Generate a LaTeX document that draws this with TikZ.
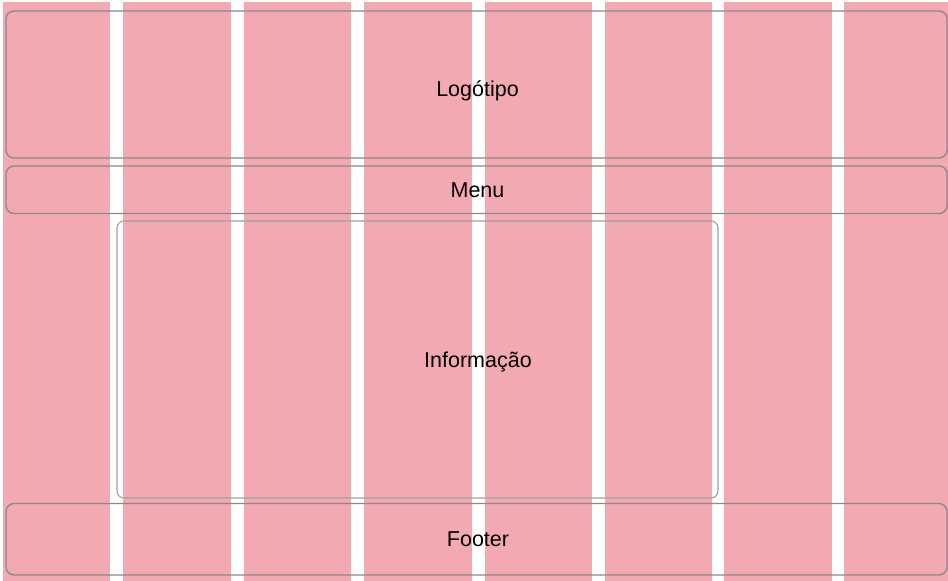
\documentclass[tikz,border=0pt]{standalone}
\usepackage{fontspec}
\setmainfont{Liberation Sans}
\definecolor{colpink}{HTML}{F3A9B2}
\definecolor{boxline}{HTML}{8A8A8A}
\definecolor{infoline}{HTML}{A0A0A0}
\begin{document}
\begin{tikzpicture}[x=1pt,y=-1pt,
  colbar/.style={fill=colpink,draw=none},
  region/.style={draw=boxline,line width=1.4pt,rounded corners=8pt,fill=none},
  inforegion/.style={draw=infoline,line width=1.1pt,rounded corners=7pt,fill=none},
  lbl/.style={anchor=base,inner sep=0pt,font=\fontsize{21.5}{24}\selectfont}]
\useasboundingbox (0,0) rectangle (948,581);
\fill[white] (0,0) rectangle (948,581);
% columns
\foreach \a/\b in {3/110,123/231,244/351,364/472,485/592,605/712,724/832,844/948}
  \fill[colpink] (\a,2) rectangle (\b,581);
% regions
\draw[region] (6,11) rectangle (947,158);
\draw[region] (6,166) rectangle (947,213.5);
\draw[inforegion] (117,221) rectangle (718,498);
\draw[region] (6,503.5) rectangle (947,575);
\node[lbl] (logo) at (477.5,96) {Logótipo};
\node[lbl] (menu) at (477.5,197.7) {Menu};
\node[lbl] (info) at (478,367.3) {Informação};
\node[lbl] (footer) at (478,546) {Footer};
\end{tikzpicture}
\end{document}
